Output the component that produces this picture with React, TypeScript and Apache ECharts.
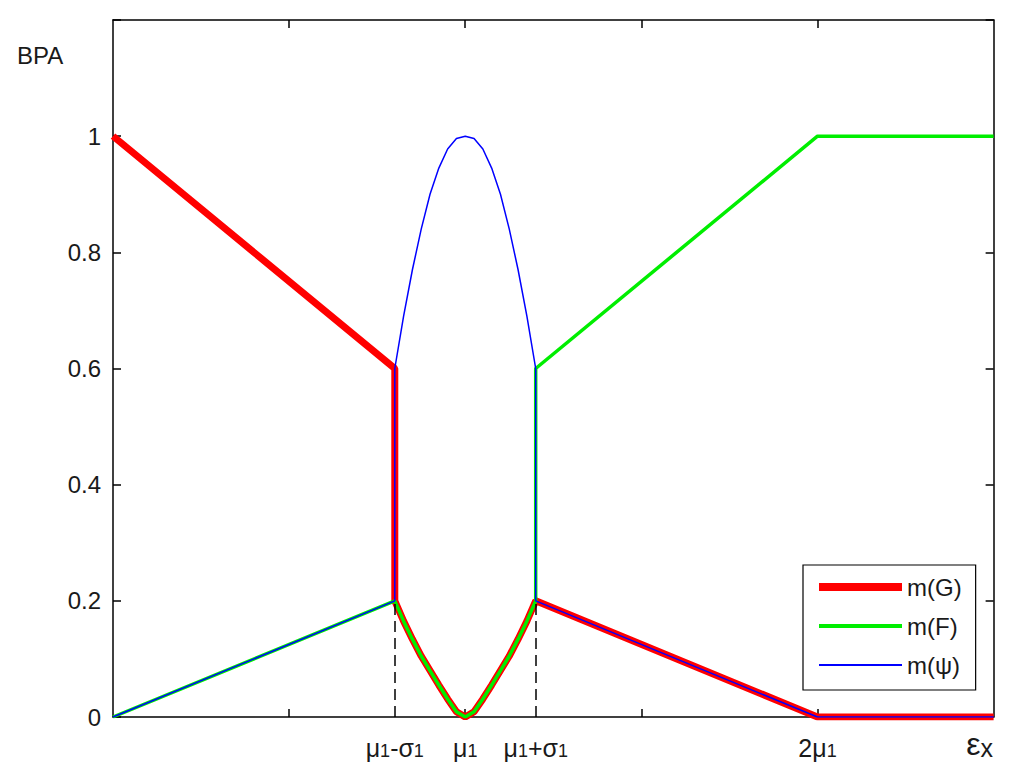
import React, { useEffect, useRef } from "react";
import * as echarts from "echarts";

// ---- data ----
const seriesNames = ["m(G)", "m(F)", "m(ψ)"];

// shared x samples of the middle region (μ1-σ1 .. μ1+σ1)
const midX = [0.8, 0.825, 0.85, 0.875, 0.9, 0.925, 0.95, 0.975, 1.0, 1.025, 1.05, 1.075, 1.1, 1.125, 1.15, 1.175, 1.2];
// lower "valley" curve shared by m(G) and m(F)
const valleyV = [0.2, 0.165, 0.134, 0.105, 0.08, 0.055, 0.031, 0.009, 0, 0.009, 0.031, 0.055, 0.08, 0.105, 0.134, 0.165, 0.2];
// upper bell of m(ψ)
const bellV = [0.6, 0.69, 0.77, 0.84, 0.9, 0.945, 0.978, 0.996, 1, 0.996, 0.978, 0.945, 0.9, 0.84, 0.77, 0.69, 0.6];

const gLeft: number[][] = [[0, 1], [0.8, 0.6], [0.8, 0.2]];
const gRight: number[][] = [[1.2, 0.2], [2, 0], [2.5, 0]];
const fLeft: number[][] = [[0, 0], [0.8, 0.2]];
const fRight: number[][] = [[1.2, 0.2], [1.2, 0.6], [2, 1], [2.5, 1]];
const psiLeft: number[][] = [[0, 0], [0.8, 0.2], [0.8, 0.6]];
const psiRight: number[][] = [[1.2, 0.6], [1.2, 0.2], [2, 0], [2.5, 0]];

const dashX = [0.8, 1.2];
const dashTop = 0.2;

const xTickValues = [0.5, 1, 1.5, 2];
const xLabelValues = [0.8, 1, 1.2, 2, 2.5];
const xLabels = ["μ1-σ1", "μ1", "μ1+σ1", "2μ1", "εx"];
const yLabelHidden = 1.2;

const seriesColors = ["#ff0000", "#00ee00", "#0000ff"];
const seriesWidths = [7, 3.5, 1.5];
const legendWidths = [8, 4, 2];

const FONT = "'Liberation Sans', Arial, Helvetica, sans-serif";

const valley = midX.map((x, i) => [x, valleyV[i]]);
const bell = midX.map((x, i) => [x, bellV[i]]);
const gData = [...gLeft, ...valley.slice(1), ...gRight.slice(1)];
const fData = [...fLeft, ...valley.slice(1), ...fRight.slice(1)];
const psiData = [...psiLeft, ...bell.slice(1), ...psiRight.slice(1)];

function richLabel(s: string): string {
  if (s === "εx") return "{e|ε}{x|x}";
  return s
    .split("1")
    .map((p) => (p ? `{m|${p}}` : ""))
    .join("{s|1}");
}

export default function App() {
  const ref = useRef<HTMLDivElement>(null);
  useEffect(() => {
    if (!ref.current) return;
    const chart = echarts.init(ref.current, undefined, { renderer: "svg" });
    const axisLineStyle = { color: "#000", width: 1.5 };
    const option: any = {
      animation: false,
      backgroundColor: "#fff",
      grid: { left: 113, right: 25, top: 20, bottom: 63, containLabel: false },
      xAxis: [
        {
          type: "value",
          min: 0,
          max: 2.5,
          position: "bottom",
          axisLine: { show: true, onZero: false, lineStyle: axisLineStyle },
          axisTick: { show: true, inside: true, length: 8, customValues: xTickValues, lineStyle: axisLineStyle },
          axisLabel: {
            show: true,
            customValues: xLabelValues,
            margin: 14,
            formatter: (v: number) => {
              const i = xLabelValues.findIndex((t) => Math.abs(t - v) < 1e-6);
              return i >= 0 ? richLabel(xLabels[i]) : "";
            },
            rich: {
              m: { fontSize: 25, fontFamily: FONT, color: "#1a1a1a", verticalAlign: "bottom", lineHeight: 29 },
              s: { fontSize: 18, fontFamily: FONT, color: "#1a1a1a", verticalAlign: "bottom", lineHeight: 29 },
              e: { fontSize: 32, fontFamily: FONT, color: "#1a1a1a", verticalAlign: "bottom", lineHeight: 29 },
              x: { fontSize: 25, fontFamily: FONT, color: "#1a1a1a", verticalAlign: "bottom", lineHeight: 29, padding: [0, 28, 0, 0] },
            },
          },
          splitLine: { show: false },
        },
        {
          type: "value",
          min: 0,
          max: 2.5,
          position: "top",
          axisLine: { show: true, onZero: false, lineStyle: axisLineStyle },
          axisTick: { show: true, inside: true, length: 8, customValues: xTickValues, lineStyle: axisLineStyle },
          axisLabel: { show: false },
          splitLine: { show: false },
        },
      ],
      yAxis: [
        {
          type: "value",
          min: 0,
          max: 1.2,
          interval: 0.2,
          position: "left",
          axisLine: { show: true, onZero: false, lineStyle: axisLineStyle },
          axisTick: { show: true, inside: true, length: 8, lineStyle: axisLineStyle },
          axisLabel: {
            margin: 12,
            fontSize: 24,
            fontFamily: FONT,
            color: "#1a1a1a",
            formatter: (v: number) => {
              const r = Math.round(v * 10) / 10;
              return Math.abs(r - yLabelHidden) < 1e-6 ? "" : String(r);
            },
          },
          splitLine: { show: false },
        },
        {
          type: "value",
          min: 0,
          max: 1.2,
          interval: 0.2,
          position: "right",
          axisLine: { show: true, onZero: false, lineStyle: axisLineStyle },
          axisTick: { show: true, inside: true, length: 8, lineStyle: axisLineStyle },
          axisLabel: { show: false },
          splitLine: { show: false },
        },
      ],
      legend: {
        show: true,
        orient: "vertical",
        left: 803,
        top: 565,
        backgroundColor: "#fff",
        borderColor: "#000",
        borderWidth: 1.2,
        borderRadius: 0,
        padding: [10, 14, 13, 16],
        itemWidth: 83,
        itemHeight: 24,
        itemGap: 15,
        itemTextGap: 13,
        symbolKeepAspect: true,
        textStyle: { fontSize: 24, fontFamily: FONT, color: "#1a1a1a" },
        data: seriesNames.map((n, i) => ({
          name: n,
          icon: `path://M0,0 L83,0 L83,${legendWidths[i]} L0,${legendWidths[i]} Z`,
          itemStyle: { color: seriesColors[i], borderWidth: 0 },
        })),
      },
      graphic: [
        {
          type: "text",
          left: 17,
          top: 43,
          style: { text: "BPA", fontSize: 24, fontFamily: FONT, fill: "#1a1a1a" },
        },
      ],
      series: [
        {
          name: "dash",
          type: "line",
          data: [],
          silent: true,
          markLine: {
            silent: true,
            symbol: ["none", "none"],
            label: { show: false },
            lineStyle: { color: "#000", type: [11, 6], width: 1.5 },
            data: dashX.map((x) => [{ coord: [x, 0] }, { coord: [x, dashTop] }]),
          },
        },
        ...[gData, fData, psiData].map((d, i) => ({
          name: seriesNames[i],
          type: "line",
          data: d,
          showSymbol: false,
          symbol: "none",
          lineStyle: { color: seriesColors[i], width: seriesWidths[i] },
          itemStyle: { color: seriesColors[i] },
          z: 3 + i,
        })),
      ],
    };
    chart.setOption(option);
    return () => chart.dispose();
  }, []);
  return (
    <div
      ref={ref}
      style={{ position: "absolute", left: 0, top: 0, width: 1024, height: 780, background: "#fff" }}
    />
  );
}
